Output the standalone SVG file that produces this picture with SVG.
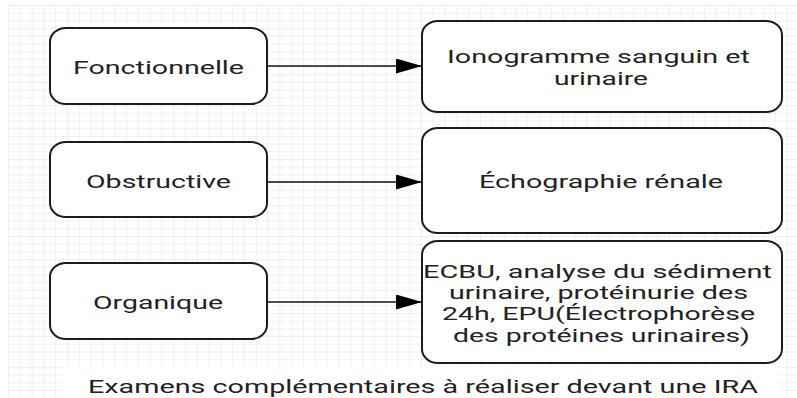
<svg xmlns="http://www.w3.org/2000/svg" width="797" height="398" viewBox="0 0 797 398">
  <defs>
    <pattern id="grid" x="8" y="5" width="11.8" height="7.7" patternUnits="userSpaceOnUse">
      <path d="M0 0H11.8M0 0V7.7" fill="none" stroke="#e2e2e2" stroke-width="1"/>
    </pattern>
    <marker id="arrow" viewBox="0 0 26 15" refX="26" refY="7.5" markerWidth="26" markerHeight="15" markerUnits="userSpaceOnUse" orient="auto">
      <path d="M0 0L26 7.5L0 15Z" fill="#000"/>
    </marker>
  </defs>
  <style>
    .box { fill: #fff; stroke: #1c1c1c; stroke-width: 2; }
    .lbl { font-family: Roboto, "Liberation Sans", sans-serif; font-size: 19px; fill: #222; }
    .conn { stroke: #111; stroke-width: 1.5; fill: none; }
  </style>
  <rect width="797" height="398" fill="#fff"/>
  <rect x="8" y="5" width="789" height="393" fill="url(#grid)"/>
  <rect x="63" y="367" width="717" height="31" fill="#fff"/>

  <g id="connectors">
    <line class="conn" x1="267" y1="66" x2="422" y2="66" marker-end="url(#arrow)"/>
    <line class="conn" x1="267" y1="182" x2="422" y2="182" marker-end="url(#arrow)"/>
    <line class="conn" x1="267" y1="302" x2="422" y2="302" marker-end="url(#arrow)"/>
  </g>

  <g id="fonctionnelle">
    <rect class="box" x="50" y="28" width="217" height="76" rx="16" ry="14"/>
    <text class="lbl" x="73" y="74" textLength="171" lengthAdjust="spacingAndGlyphs">Fonctionnelle</text>
  </g>
  <g id="obstructive">
    <rect class="box" x="50" y="142" width="217" height="75" rx="16" ry="14"/>
    <text class="lbl" x="86" y="188" textLength="145" lengthAdjust="spacingAndGlyphs">Obstructive</text>
  </g>
  <g id="organique">
    <rect class="box" x="50" y="263" width="217" height="76" rx="16" ry="14"/>
    <text class="lbl" x="93" y="309" textLength="130" lengthAdjust="spacingAndGlyphs">Organique</text>
  </g>

  <g id="ionogramme">
    <rect class="box" x="422" y="21" width="360" height="91" rx="16" ry="14"/>
    <text class="lbl" x="447" y="63" textLength="303" lengthAdjust="spacingAndGlyphs">Ionogramme sanguin et</text>
    <text class="lbl" x="554" y="85" textLength="94" lengthAdjust="spacingAndGlyphs">urinaire</text>
  </g>
  <g id="echographie">
    <rect class="box" x="422" y="128" width="360" height="105" rx="16" ry="14"/>
    <text class="lbl" x="479" y="188" textLength="244" lengthAdjust="spacingAndGlyphs">Échographie rénale</text>
  </g>
  <g id="ecbu">
    <rect class="box" x="422" y="241" width="360" height="122" rx="16" ry="14"/>
    <text class="lbl" x="423" y="278" textLength="349" lengthAdjust="spacingAndGlyphs">ECBU, analyse du sédiment</text>
    <text class="lbl" x="449" y="299" textLength="299" lengthAdjust="spacingAndGlyphs">urinaire, protéinurie des</text>
    <text class="lbl" x="442" y="320" textLength="313" lengthAdjust="spacingAndGlyphs">24h, EPU(Électrophorèse</text>
    <text class="lbl" x="453" y="342" textLength="297" lengthAdjust="spacingAndGlyphs">des protéines urinaires)</text>
  </g>

  <g id="title">
    <text class="lbl" x="88" y="393" textLength="670" lengthAdjust="spacingAndGlyphs">Examens complémentaires à réaliser devant une IRA</text>
  </g>
</svg>
